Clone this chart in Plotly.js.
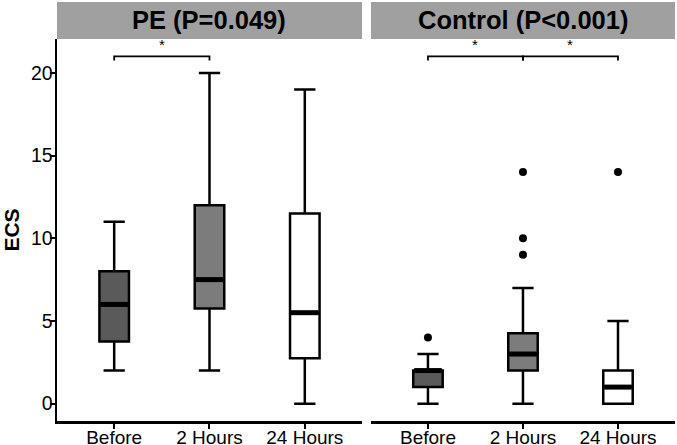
<!DOCTYPE html>
<html>
<head>
<meta charset="utf-8">
<script src="https://cdn.plot.ly/plotly-3.0.1.min.js"></script>
<style>
  html, body { margin: 0; padding: 0; background: #ffffff; }
  #chart { width: 677px; height: 445px; }
</style>
</head>
<body>
<div id="chart"></div>
<script>
// Time points shown on each panel
const categories = ['Before', '2 Hours', '24 Hours'];
const panelTitles = ['PE (P=0.049)', 'Control (P<0.001)'];

// PE group: box statistics per time point
const peLower  = [2, 2, 0];
const peQ1     = [3.75, 5.75, 2.75];
const peMedian = [6, 7.5, 5.5];
const peQ3     = [8, 12, 11.5];
const peUpper  = [11, 20, 19];
const peOutliers = [[], [], []];

// Control group: box statistics per time point
const ctlLower  = [0, 0, 0];
const ctlQ1     = [1, 2, 0];
const ctlMedian = [2, 3, 1];
const ctlQ3     = [2, 4.25, 2];
const ctlUpper  = [3, 7, 5];
const ctlOutliers = [[4], [9, 10, 14], [14]];

// Significant pairwise comparisons (category indices) per panel
const peComparisons  = [[0, 1]];
const ctlComparisons = [[0, 1], [1, 2]];
const bracketLevel = 21;
const bracketLabel = '*';

const boxFills = ['#5a5a5a', '#7c7c7c', '#ffffff'];

const BOX_W = 0.31;
const FONT = 'Liberation Sans, Arial, sans-serif';

const traces = [];
const annotations = [];
const shapes = [];

function addPanel(lower, q1, median, q3, upper, outliers, comps, xa, ya, panelIdx) {
  categories.forEach((c, i) => {
    const x = i + 1;
    traces.push({
      type: 'box', xaxis: xa, yaxis: ya,
      x: [x], q1: [q1[i]], median: [median[i]], q3: [q3[i]],
      lowerfence: [lower[i]], upperfence: [upper[i]],
      width: BOX_W, whiskerwidth: 0.72, boxpoints: false,
      fillcolor: boxFills[i],
      line: { color: '#000000', width: 2.5 },
      showlegend: false, hoverinfo: 'skip'
    });
    // thicker median bar
    traces.push({
      type: 'scatter', mode: 'lines', xaxis: xa, yaxis: ya,
      x: [x - BOX_W / 2 + 0.01, x + BOX_W / 2 - 0.01],
      y: [median[i], median[i]],
      line: { color: '#000000', width: 5 },
      showlegend: false, hoverinfo: 'skip'
    });
    if (outliers[i].length) {
      traces.push({
        type: 'scatter', mode: 'markers', xaxis: xa, yaxis: ya,
        x: outliers[i].map(() => x), y: outliers[i],
        marker: { color: '#000000', size: 8 },
        showlegend: false, hoverinfo: 'skip'
      });
    }
  });

  // significance brackets
  comps.forEach(([a, b]) => {
    const x0 = a + 1, x1 = b + 1;
    traces.push({
      type: 'scatter', mode: 'lines', xaxis: xa, yaxis: ya,
      x: [x0, x0, x1, x1],
      y: [bracketLevel - 0.25, bracketLevel, bracketLevel, bracketLevel - 0.25],
      line: { color: '#000000', width: 1.8 },
      showlegend: false, hoverinfo: 'skip'
    });
    annotations.push({
      xref: xa, yref: ya, x: (x0 + x1) / 2, y: bracketLevel + 0.1,
      text: bracketLabel, showarrow: false, yanchor: 'bottom',
      font: { family: FONT, size: 15, color: '#000000' }
    });
  });

  // facet strip
  const xdom = (xa === 'x' ? 'x' : 'x2') + ' domain';
  const ydom = (ya === 'y' ? 'y' : 'y2') + ' domain';
  shapes.push({
    type: 'rect', xref: xdom, yref: ydom,
    x0: 0, x1: 1, y0: 1.0, y1: 1.0969,
    fillcolor: '#a0a0a0', line: { width: 0 }, layer: 'below'
  });
  annotations.push({
    xref: xdom, yref: ydom, x: 0.5, y: 1.0485,
    text: '<b>' + panelTitles[panelIdx].replace('<', '&lt;') + '</b>',
    showarrow: false, xanchor: 'center', yanchor: 'middle',
    font: { family: FONT, size: 25.5, color: '#000000' }
  });
}

addPanel(peLower, peQ1, peMedian, peQ3, peUpper, peOutliers, peComparisons, 'x', 'y', 0);
addPanel(ctlLower, ctlQ1, ctlMedian, ctlQ3, ctlUpper, ctlOutliers, ctlComparisons, 'x2', 'y2', 1);

const xCommon = {
  range: [0.4, 3.6], tickmode: 'array', tickvals: [1, 2, 3], ticktext: categories,
  showline: true, linecolor: '#000000', linewidth: 2.5,
  ticks: 'outside', ticklen: 5, tickwidth: 2, tickcolor: '#000000',
  ticklabelstandoff: -7,
  showgrid: false, zeroline: false,
  tickfont: { family: FONT, size: 19, color: '#000000' }
};

const layout = {
  width: 677, height: 445,
  margin: { l: 57, r: 2, t: 39, b: 24 },
  paper_bgcolor: '#ffffff', plot_bgcolor: '#ffffff',
  showlegend: false,
  xaxis: Object.assign({}, xCommon, { domain: [0, 0.4935], anchor: 'y' }),
  xaxis2: Object.assign({}, xCommon, { domain: [0.508, 1], anchor: 'y2' }),
  yaxis: {
    domain: [0, 1], anchor: 'x', range: [-1.05, 22.05],
    tickmode: 'array', tickvals: [0, 5, 10, 15, 20],
    showline: true, linecolor: '#000000', linewidth: 2.5,
    ticks: 'outside', ticklen: 5, tickwidth: 2, tickcolor: '#000000',
    ticklabelstandoff: -7,
    showgrid: false, zeroline: false,
    tickfont: { family: FONT, size: 19.5, color: '#000000' },
    title: { text: '<b>ECS</b>', font: { family: FONT, size: 21, color: '#000000' }, standoff: 8 }
  },
  yaxis2: {
    domain: [0, 1], anchor: 'x2', range: [-1.05, 22.05],
    showline: false, showticklabels: false, ticks: '',
    showgrid: false, zeroline: false
  },
  shapes: shapes,
  annotations: annotations
};

Plotly.newPlot('chart', traces, layout, { displayModeBar: false, staticPlot: true });
</script>
</body>
</html>
